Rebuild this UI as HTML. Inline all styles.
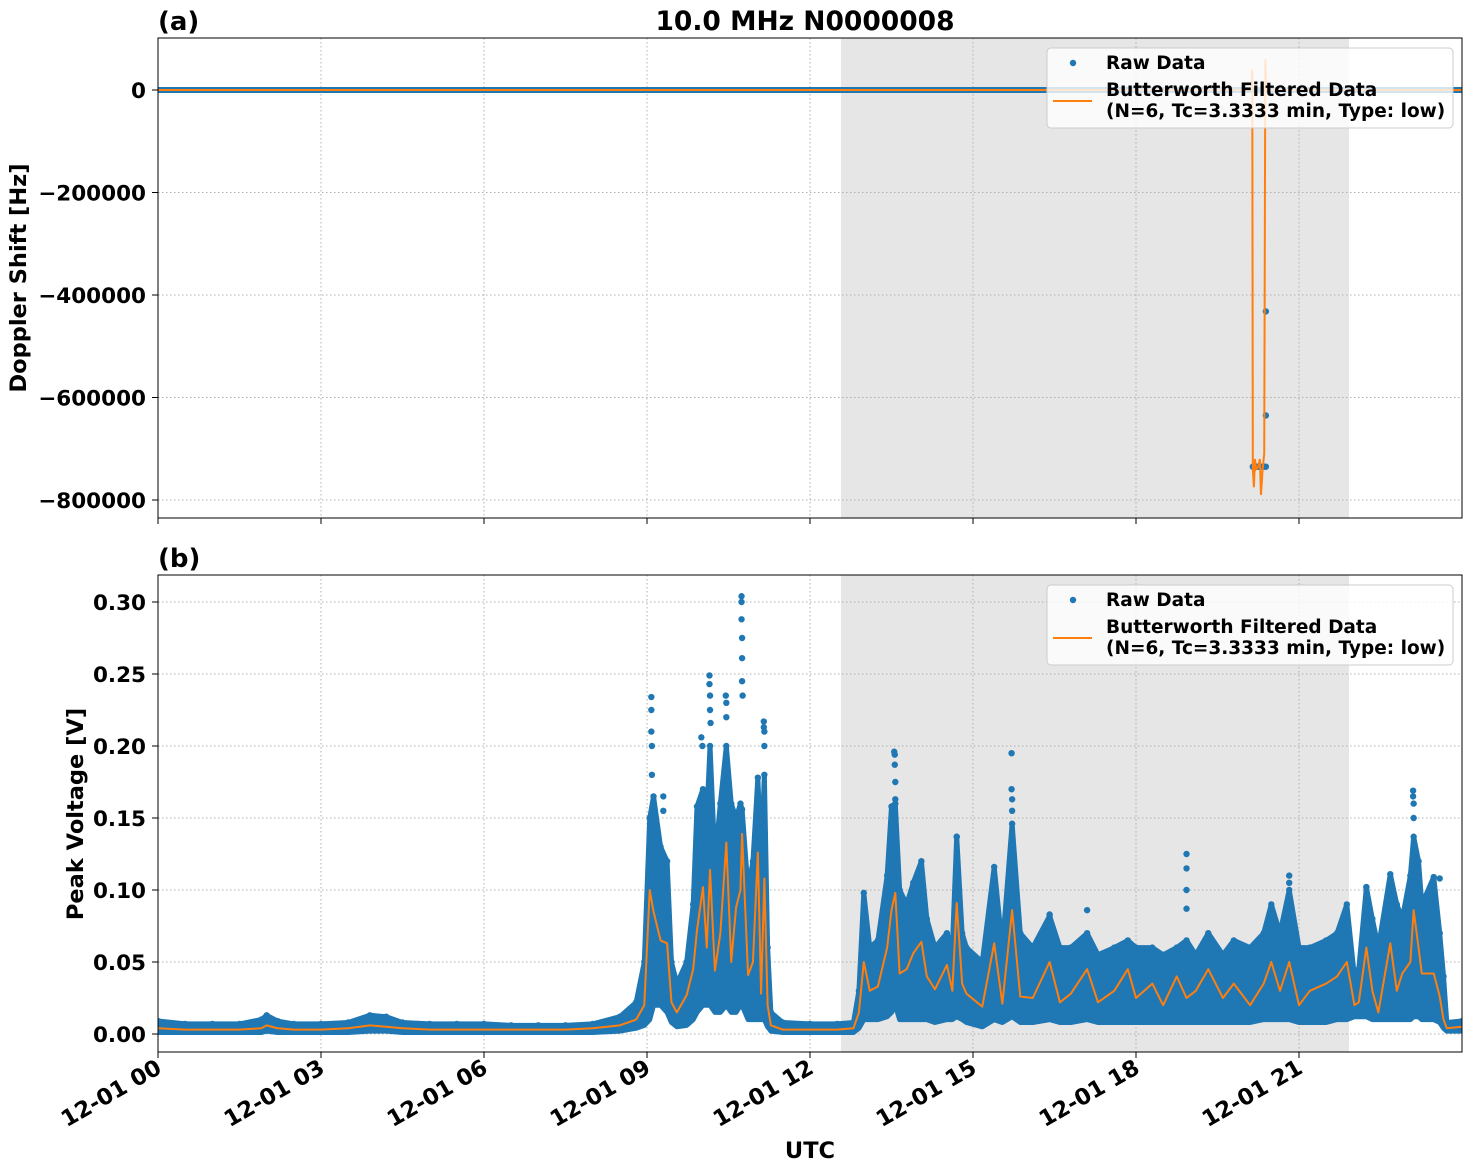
<!DOCTYPE html>
<html><head><meta charset="utf-8"><style>
html,body{margin:0;padding:0;background:#fff}
svg{display:block}
text{font-family:"DejaVu Sans","Liberation Sans",sans-serif;font-weight:bold;fill:#000}
</style></head><body>
<svg id="chart" xmlns="http://www.w3.org/2000/svg" width="1472" height="1172" viewBox="0 0 1472 1172">
<g id="root"></g>
</svg>
<script>
// ---- data ----
const xTickLabels = ["12-01 00","12-01 03","12-01 06","12-01 09","12-01 12","12-01 15","12-01 18","12-01 21"];
const xTickHours = [0,3,6,9,12,15,18,21];
const topTicks = [0,-200000,-400000,-600000,-800000];
const topTickLabels = ["0","\u2212200000","\u2212400000","\u2212600000","\u2212800000"];
const botTicks = [0,0.05,0.10,0.15,0.20,0.25,0.30];
const botTickLabels = ["0.00","0.05","0.10","0.15","0.20","0.25","0.30"];
const shadeStart = 12.57, shadeEnd = 21.92;

const dopFiltT = [0,20.12,20.14,20.15,20.17,20.19,20.21,20.25,20.28,20.30,20.33,20.36,20.38,20.40,24];
const dopFiltV = [0,0,40000,-740000,-775000,-720000,-740000,-735000,-720000,-790000,-740000,-710000,60000,0,0];
const dopRawT = [20.15,20.18,20.21,20.24,20.27,20.30,20.33,20.36,20.39,20.39,20.39];
const dopRawV = [-735000,-735000,-735000,-735000,-735000,-735000,-735000,-735000,-735000,-635000,-432000];

const vT  = [0,0.5,1,1.5,1.9,2.0,2.2,2.5,3.0,3.5,3.9,4.2,4.5,5,5.5,6,6.5,7,7.5,8,8.5,8.8,8.95,9.05,9.12,9.25,9.37,9.45,9.55,9.73,9.85,9.92,10.03,10.1,10.16,10.25,10.35,10.46,10.55,10.64,10.72,10.75,10.86,10.95,11.04,11.1,11.16,11.22,11.28,11.5,12,12.5,12.8,12.9,12.99,13.1,13.25,13.42,13.5,13.57,13.65,13.78,13.9,14.05,14.15,14.3,14.52,14.62,14.70,14.8,14.88,15.17,15.39,15.54,15.72,15.87,16.1,16.41,16.6,16.8,17.1,17.3,17.6,17.85,18.0,18.3,18.5,18.75,18.93,19.1,19.33,19.6,19.8,20.1,20.35,20.49,20.65,20.82,21.0,21.2,21.5,21.7,21.88,22.02,22.1,22.24,22.35,22.46,22.68,22.8,22.9,23.05,23.11,23.2,23.26,23.48,23.59,23.66,23.72,24];
const vHi = [.009,.007,.007,.007,.010,.013,.009,.007,.007,.008,.013,.012,.008,.007,.007,.007,.006,.006,.006,.007,.012,.022,.05,.15,.165,.13,.12,.05,.035,.05,.09,.158,.17,.15,.20,.12,.16,.20,.16,.15,.16,.156,.10,.12,.178,.12,.18,.06,.015,.008,.007,.007,.008,.03,.098,.06,.065,.11,.158,.16,.10,.09,.105,.12,.08,.06,.07,.06,.137,.07,.06,.05,.116,.06,.146,.07,.06,.082,.06,.06,.07,.055,.06,.065,.06,.06,.055,.06,.065,.055,.07,.055,.065,.06,.07,.09,.07,.10,.06,.06,.065,.07,.09,.04,.045,.102,.08,.06,.111,.09,.08,.11,.137,.12,.09,.109,.07,.04,.008,.009];
const vLo = [.001,.001,.001,.001,.001,.002,.001,.001,.001,.001,.002,.002,.001,.001,.001,.001,.001,.001,.001,.001,.002,.004,.006,.01,.02,.02,.015,.008,.005,.006,.01,.015,.02,.02,.02,.015,.015,.02,.015,.015,.02,.02,.01,.01,.01,.01,.01,.005,.002,.001,.001,.001,.001,.004,.01,.01,.01,.012,.015,.02,.01,.01,.01,.01,.01,.008,.01,.01,.012,.01,.008,.005,.01,.008,.012,.008,.008,.01,.008,.008,.01,.008,.008,.008,.008,.008,.008,.008,.008,.008,.008,.008,.008,.008,.01,.01,.01,.01,.008,.008,.008,.01,.01,.012,.012,.012,.01,.01,.01,.01,.01,.01,.012,.012,.01,.01,.008,.004,.002,.002];
const vFilt = [.004,.003,.003,.003,.004,.006,.004,.003,.003,.004,.006,.005,.004,.003,.003,.003,.003,.003,.003,.004,.006,.010,.02,.10,.085,.065,.063,.022,.015,.027,.045,.072,.102,.06,.114,.044,.07,.133,.05,.088,.10,.139,.041,.05,.126,.028,.108,.02,.006,.003,.003,.003,.004,.015,.05,.03,.033,.06,.086,.098,.042,.045,.056,.064,.04,.031,.048,.03,.091,.035,.028,.019,.063,.021,.086,.026,.025,.05,.022,.028,.045,.022,.03,.045,.025,.035,.02,.04,.025,.03,.045,.025,.035,.02,.035,.05,.03,.05,.02,.03,.035,.04,.05,.02,.022,.06,.03,.015,.063,.03,.042,.05,.086,.06,.042,.042,.026,.01,.004,.005];
const outT = [9.08,9.08,9.08,9.09,9.09,9.3,9.3,10.0,10.02,10.15,10.15,10.16,10.16,10.17,10.45,10.46,10.46,10.74,10.74,10.74,10.75,10.75,10.75,10.76,11.15,11.15,11.16,11.16,13.55,13.56,13.56,13.57,13.57,15.71,15.71,15.72,15.72,18.93,18.93,18.93,18.93,16.41,17.1,20.82,20.82,23.1,23.1,23.11,23.11,22.24,23.59,14.7];
const outV = [.234,.225,.21,.2,.18,.165,.155,.206,.2,.249,.243,.235,.225,.216,.235,.23,.22,.304,.3,.288,.275,.261,.245,.235,.217,.213,.21,.2,.196,.194,.187,.175,.163,.195,.17,.163,.155,.125,.115,.1,.087,.083,.086,.11,.105,.169,.165,.16,.15,.102,.108,.137];

// ---- scales ----
const X = h => 158 + h * (1304/24);
const YT = v => 90 - v * 0.0005125;
const YB = v => 1034 - v * 1440;
const NS = "http://www.w3.org/2000/svg";
const root = document.getElementById('root');
function mk(tag, attrs, parent){
  const e = document.createElementNS(NS, tag);
  for (const k in attrs) e.setAttribute(k, attrs[k]);
  (parent||root).appendChild(e); return e;
}
const BLUE="#1f77b4", ORANGE="#ff7f0e";

function panel(top, bottom, yTicks, yLabels, Y, name){
  const g = mk('g', {});
  
  
  const sh = mk('rect', {x:X(shadeStart), y:top, width:X(shadeEnd)-X(shadeStart), height:bottom-top, fill:'#e6e6e6'}, g);
  
  
  xTickHours.forEach(h => {
    if (h>0) mk('line', {x1:X(h), x2:X(h), y1:top, y2:bottom, stroke:'#b0b0b0', 'stroke-width':1, 'stroke-dasharray':'1.5,2.5'}, g);
    mk('line', {x1:X(h), x2:X(h), y1:bottom, y2:bottom+6, stroke:'#000', 'stroke-width':1}, g);
  });
  yTicks.forEach((v,i) => {
    mk('line', {x1:158, x2:1462, y1:Y(v), y2:Y(v), stroke:'#b0b0b0', 'stroke-width':1, 'stroke-dasharray':'1.5,2.5'}, g);
    mk('line', {x1:152, x2:158, y1:Y(v), y2:Y(v), stroke:'#000', 'stroke-width':1}, g);
    const t = mk('text', {x:146, y:Y(v)+8, 'text-anchor':'end', 'font-size':21.5}, g);
    t.textContent = yLabels[i];
    
    
  });
  return g;
}

// ---- top panel ----
const gTop = panel(38, 518, topTicks, topTickLabels, YT, 'doppler-panel');
const clipT = mk('clipPath', {id:'ct'}); mk('rect', {x:158,y:38,width:1304,height:480}, clipT);
const dataT = mk('g', {'clip-path':'url(#ct)'}, gTop);
const rawLine = mk('line', {x1:X(0), x2:X(24), y1:YT(0), y2:YT(0), stroke:BLUE, 'stroke-width':6}, dataT);


dopRawT.forEach((h,i) => {
  const c = mk('circle', {cx:X(h), cy:YT(dopRawV[i]), r:3.2, fill:BLUE}, dataT);
  
  
});
const pT = mk('polyline', {points:dopFiltT.map((h,i)=>X(h)+','+YT(dopFiltV[i])).join(' '), fill:'none', stroke:ORANGE, 'stroke-width':2}, dataT);


mk('rect', {x:158, y:38, width:1304, height:480, fill:'none', stroke:'#000', 'stroke-width':1}, gTop);

// ---- bottom panel ----
const gBot = panel(575, 1052, botTicks, botTickLabels, YB, 'voltage-panel');
const clipB = mk('clipPath', {id:'cb'}); mk('rect', {x:158,y:575,width:1304,height:477}, clipB);
const dataB = mk('g', {'clip-path':'url(#cb)'}, gBot);
const bandPts = vT.map((h,i)=>X(h)+','+YB(vHi[i])).concat(vT.slice().reverse().map((h,j)=>{const i=vT.length-1-j;return X(h)+','+YB(vLo[i]);})).join(' ');
const band = mk('polygon', {points:bandPts, fill:BLUE, stroke:BLUE, 'stroke-width':5, 'stroke-linejoin':'round'}, dataB);


vT.forEach((h,i) => {
  const c = mk('circle', {cx:X(h), cy:YB(vHi[i]), r:3.2, fill:BLUE}, dataB);
  
  
});
outT.forEach((h,i) => {
  const c = mk('circle', {cx:X(h), cy:YB(outV[i]), r:3.2, fill:BLUE}, dataB);
  
  
});
const pB = mk('polyline', {points:vT.map((h,i)=>X(h)+','+YB(vFilt[i])).join(' '), fill:'none', stroke:ORANGE, 'stroke-width':2, 'stroke-linejoin':'round'}, dataB);


mk('rect', {x:158, y:575, width:1304, height:477, fill:'none', stroke:'#000', 'stroke-width':1}, gBot);

// x tick labels (bottom)
xTickHours.forEach((h,i) => {
  const t = mk('text', {x:0, y:0, 'text-anchor':'end', 'font-size':22.5, transform:`translate(${X(h)+5},${1072}) rotate(-30)`});
  t.textContent = xTickLabels[i];
  
  
});

// legends
function legend(y0, name){
  const g = mk('g', {});
  
  
  mk('rect', {x:1047, y:y0, width:406, height:80, rx:4, fill:'#fff', 'fill-opacity':0.8, stroke:'#ccc', 'stroke-width':1}, g);
  mk('circle', {cx:1073, cy:y0+15, r:3.2, fill:BLUE}, g);
  const t1 = mk('text', {x:1106, y:y0+21, 'font-size':18.5}, g); t1.textContent = 'Raw Data';
  
  
  mk('line', {x1:1053, x2:1092, y1:y0+53, y2:y0+53, stroke:ORANGE, 'stroke-width':2}, g);
  const t2 = mk('text', {x:1106, y:y0+48, 'font-size':18.5}, g); t2.textContent = 'Butterworth Filtered Data';
  
  
  const t3 = mk('text', {x:1106, y:y0+69, 'font-size':18.5}, g); t3.textContent = '(N=6, Tc=3.3333 min, Type: low)';
  
  
}
legend(48, 'legend-top');
legend(585, 'legend-bottom');

// titles & labels
function txt(s, attrs, name){ const t = mk('text', attrs); t.textContent = s;
  
   }
txt('10.0 MHz N0000008', {x:805, y:30, 'text-anchor':'middle', 'font-size':26.5}, 'chart-title');
txt('(a)', {x:158, y:30, 'font-size':26}, 'panel-a-label');
txt('(b)', {x:158, y:567, 'font-size':26}, 'panel-b-label');
txt('Doppler Shift [Hz]', {x:0, y:0, 'text-anchor':'middle', 'font-size':22.5, transform:'translate(26,278) rotate(-90)'}, 'y-axis-title-top');
txt('Peak Voltage [V]', {x:0, y:0, 'text-anchor':'middle', 'font-size':22.5, transform:'translate(83,814) rotate(-90)'}, 'y-axis-title-bottom');
txt('UTC', {x:810, y:1158, 'text-anchor':'middle', 'font-size':22.5}, 'x-axis-title');
</script>
</body></html>
